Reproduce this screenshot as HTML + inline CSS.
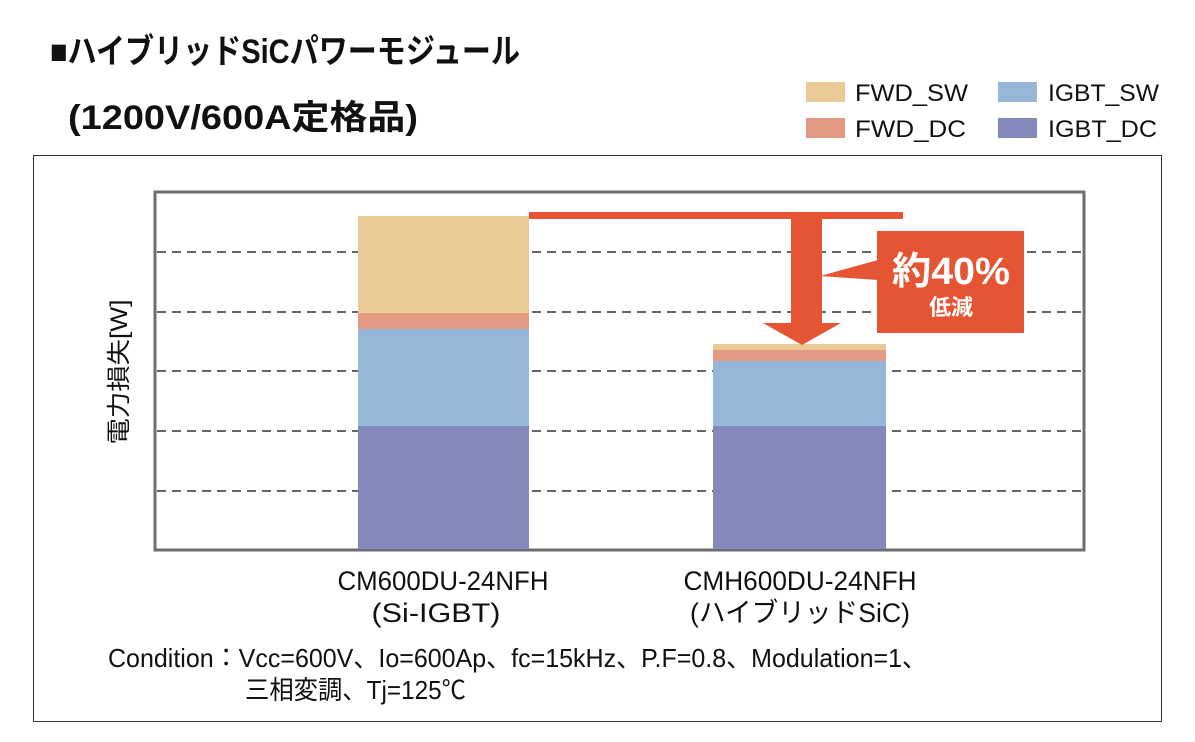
<!DOCTYPE html>
<html><head><meta charset="utf-8"><style>
html,body{margin:0;padding:0;background:#fff;}
svg{display:block;}
text{font-family:"Liberation Sans","Noto Sans CJK JP",sans-serif;fill:#111;}
</style></head><body>
<svg width="1195" height="742" viewBox="0 0 1195 742" xmlns="http://www.w3.org/2000/svg">
<rect x="0" y="0" width="1195" height="742" fill="#fff"/>
<text x="50" y="63" font-size="34" font-weight="bold" textLength="470" lengthAdjust="spacingAndGlyphs">■ハイブリッドSiCパワーモジュール</text>
<text x="68" y="129" font-size="34" font-weight="bold" textLength="350" lengthAdjust="spacingAndGlyphs">(1200V/600A定格品)</text>
<!-- legend -->
<rect x="806" y="82" width="39" height="20" fill="#e9c995"/>
<text x="855" y="101" font-size="24" textLength="113" lengthAdjust="spacingAndGlyphs">FWD_SW</text>
<rect x="806" y="118" width="39" height="20" fill="#e39a82"/>
<text x="855" y="137" font-size="24" textLength="111" lengthAdjust="spacingAndGlyphs">FWD_DC</text>
<rect x="998" y="82" width="39" height="20" fill="#97b7d9"/>
<text x="1048" y="101" font-size="24" textLength="111" lengthAdjust="spacingAndGlyphs">IGBT_SW</text>
<rect x="998" y="118" width="39" height="20" fill="#8389bb"/>
<text x="1048" y="137" font-size="24" textLength="109" lengthAdjust="spacingAndGlyphs">IGBT_DC</text>
<!-- outer frame -->
<rect x="33.5" y="155.5" width="1128" height="566" fill="none" stroke="#333" stroke-width="1"/>
<!-- plot -->
<rect x="155" y="192" width="929" height="358" fill="none" stroke="#6e6e6e" stroke-width="3"/>
<g stroke="#666" stroke-width="2" stroke-dasharray="9,6">
<line x1="157" y1="252" x2="1082" y2="252"/>
<line x1="157" y1="312" x2="1082" y2="312"/>
<line x1="157" y1="371" x2="1082" y2="371"/>
<line x1="157" y1="431" x2="1082" y2="431"/>
<line x1="157" y1="491" x2="1082" y2="491"/>
</g>
<!-- bar 1 -->
<rect x="358" y="216" width="171" height="97" fill="#e9c995"/>
<rect x="358" y="313" width="171" height="16" fill="#e39a82"/>
<rect x="358" y="329" width="171" height="97" fill="#97b7d9"/>
<rect x="358" y="426" width="171" height="123" fill="#8389bb"/>
<!-- bar 2 -->
<rect x="713" y="344" width="173" height="6" fill="#e9c995"/>
<rect x="713" y="350" width="173" height="11" fill="#e39a82"/>
<rect x="713" y="361" width="173" height="65" fill="#97b7d9"/>
<rect x="713" y="426" width="173" height="123" fill="#8389bb"/>
<!-- arrow -->
<g fill="#e65533">
<rect x="529" y="212" width="374" height="7"/>
<rect x="791" y="212" width="31" height="112"/>
<polygon points="763,323 841,323 802,345"/>
<rect x="877" y="231" width="147" height="102"/>
<polygon points="878,260 878,280 820,276"/>
</g>
<text x="951" y="284" font-size="38" font-weight="bold" text-anchor="middle" style="fill:#fff" textLength="118" lengthAdjust="spacingAndGlyphs">約40%</text>
<text x="951" y="315" font-size="22" font-weight="bold" text-anchor="middle" style="fill:#fff">低減</text>
<!-- y label -->
<text transform="translate(127,372) rotate(-90)" font-size="24" text-anchor="middle" textLength="145" lengthAdjust="spacingAndGlyphs">電力損失[W]</text>
<!-- x labels -->
<text x="443" y="590" font-size="27" text-anchor="middle" textLength="211" lengthAdjust="spacingAndGlyphs">CM600DU-24NFH</text>
<text x="436" y="622" font-size="27" text-anchor="middle" textLength="129" lengthAdjust="spacingAndGlyphs">(Si-IGBT)</text>
<text x="800" y="590" font-size="27" text-anchor="middle" textLength="233" lengthAdjust="spacingAndGlyphs">CMH600DU-24NFH</text>
<text x="800" y="622" font-size="27" text-anchor="middle" textLength="220" lengthAdjust="spacingAndGlyphs">(ハイブリッドSiC)</text>
<text x="108" y="667" font-size="26" textLength="819" lengthAdjust="spacingAndGlyphs">Condition：Vcc=600V、Io=600Ap、fc=15kHz、P.F=0.8、Modulation=1、</text>
<text x="245" y="699" font-size="26" textLength="221" lengthAdjust="spacingAndGlyphs">三相変調、Tj=125℃</text>
</svg>
</body></html>
